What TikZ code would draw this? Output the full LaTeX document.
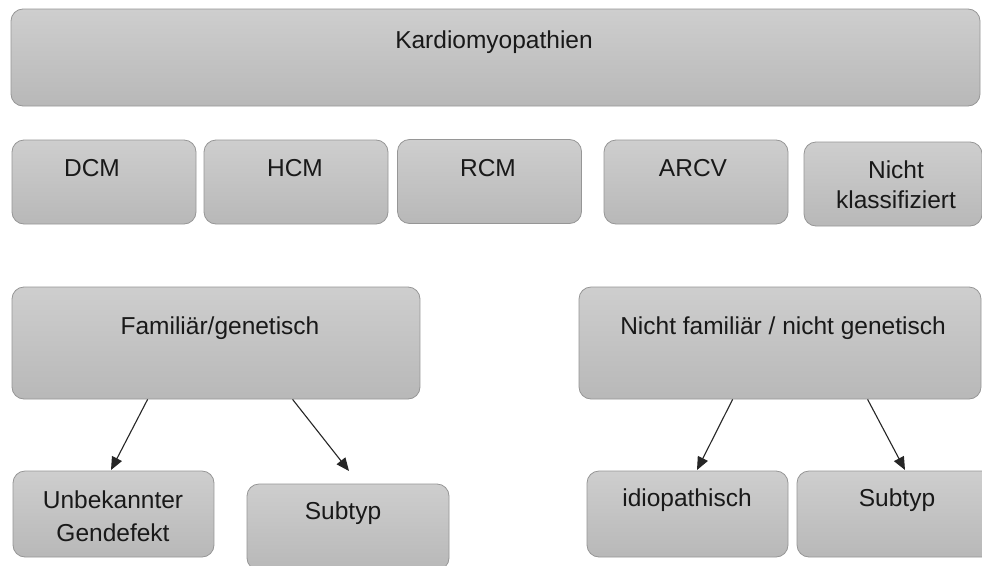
\documentclass[tikz,border=0pt]{standalone}
\usepackage{fontspec}
\setmainfont{Liberation Sans}
\usetikzlibrary{arrows.meta}
\definecolor{boxtop}{RGB}{206,206,206}
\definecolor{boxbot}{RGB}{184,184,184}
\definecolor{boxline}{RGB}{150,150,150}
\begin{document}
\begin{tikzpicture}[x=1pt,y=-1pt,
  box/.style={draw=boxline, line width=0.8pt, rounded corners=12pt,
    top color=boxtop, bottom color=boxbot, inner sep=0pt},
  lbl/.style={font=\fontsize{24.5}{31}\selectfont, text=black!90, align=center, inner sep=0pt},
  arr/.style={-{Triangle[length=13pt,width=11pt]}, line width=1.1pt, black!85}]

\clip (0,0) rectangle (982,565);
\fill[white] (0,0) rectangle (982,565);

% top level
\node[box, minimum width=969pt, minimum height=97pt] (top) at (495.5,57.5) {};
\node[lbl] (ttop) at (494,42) {Kardiomyopathien};

% phenotypes
\node[box, minimum width=184pt, minimum height=84pt] (dcm) at (104,182) {};
\node[box, minimum width=184pt, minimum height=84pt] (hcm) at (296,182) {};
\node[box, minimum width=184pt, minimum height=84pt] (rcm) at (489.5,181.5) {};
\node[box, minimum width=184pt, minimum height=84pt] (arcv) at (696,182) {};
\node[box, minimum width=178pt, minimum height=84pt] (nk) at (893,184) {};
\node[lbl] (tdcm) at (92,168) {DCM};
\node[lbl] (thcm) at (295,168) {HCM};
\node[lbl] (trcm) at (488,168) {RCM};
\node[lbl] (tarcv) at (693,168) {ARCV};
\node[lbl, font=\fontsize{24.5}{30}\selectfont] (tnk) at (896,185) {Nicht\\klassifiziert};

% genetic classification
\node[box, minimum width=408pt, minimum height=112pt] (fam) at (216,343) {};
\node[box, minimum width=402pt, minimum height=112pt] (nfam) at (780,343) {};
\node[lbl] (tfam) at (220,328) {Familiär/genetisch};
\node[lbl] (tnfam) at (783,328) {Nicht familiär / nicht genetisch};

% subgroups
\node[box, minimum width=201pt, minimum height=86pt] (unb) at (113.5,514) {};
\node[box, minimum width=202pt, minimum height=86pt] (sub1) at (348,527) {};
\node[box, minimum width=201pt, minimum height=86pt] (idio) at (687.5,514) {};
\node[box, minimum width=198pt, minimum height=86pt] (sub2) at (896,514) {};
\node[lbl, font=\fontsize{24.5}{33}\selectfont] (tunb) at (113,516) {Unbekannter\\Gendefekt};
\node[lbl] (tsub1) at (343,513) {Subtyp};
\node[lbl] (tidio) at (687,500) {idiopathisch};
\node[lbl] (tsub2) at (897,500) {Subtyp};

% arrow tips
\coordinate (e1) at (111,470);
\coordinate (e2) at (349,471);
\coordinate (e3) at (697,470);
\coordinate (e4) at (905,470);

\draw[arr] ([xshift=136pt]fam.south west) -- (e1);
\draw[arr] ([xshift=281pt]fam.south west) -- (e2);
\draw[arr] ([xshift=154pt]nfam.south west) -- (e3);
\draw[arr] ([xshift=289pt]nfam.south west) -- (e4);
\end{tikzpicture}
\end{document}
